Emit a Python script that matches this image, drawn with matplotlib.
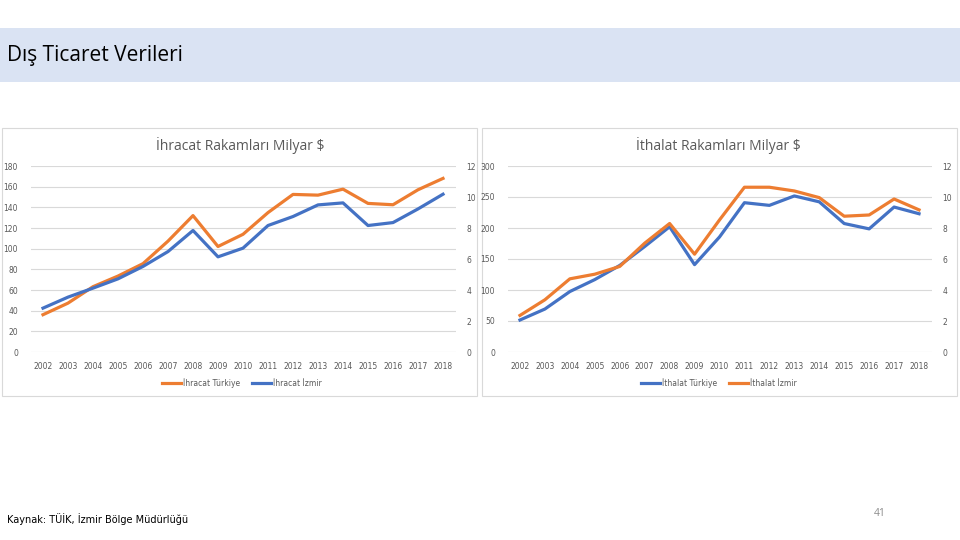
import matplotlib
matplotlib.use("Agg")
import matplotlib.pyplot as plt
from matplotlib.patches import Rectangle
from matplotlib.lines import Line2D

years = [str(y) for y in range(2002, 2019)]

# Exports (billion $)
ihracat_turkiye = [36.1, 47.3, 63.2, 73.5, 85.5, 107.3, 132.0, 102.1, 113.9, 134.9,
                   152.5, 151.8, 157.6, 143.8, 142.5, 157.0, 168.0]
ihracat_izmir = [2.83, 3.54, 4.12, 4.72, 5.52, 6.48, 7.84, 6.14, 6.70, 8.16,
                 8.74, 9.49, 9.62, 8.16, 8.35, 9.23, 10.18]

# Imports (billion $)
ithalat_turkiye = [51.6, 69.3, 97.5, 116.8, 139.6, 170.1, 202.0, 140.9, 185.5, 240.8,
                   236.5, 251.7, 242.2, 207.2, 198.6, 233.8, 223.0]
ithalat_izmir = [2.36, 3.37, 4.72, 5.02, 5.52, 7.02, 8.29, 6.31, 8.52, 10.63,
                 10.63, 10.39, 9.96, 8.76, 8.84, 9.87, 9.17]

ORANGE = "#ED7D31"
BLUE = "#4472C4"
GRID = "#D9D9D9"
TXT = "#595959"

W, H = 960, 540
fig = plt.figure(figsize=(9.6, 5.4), dpi=100)
fig.patch.set_facecolor("white")
FONT = ["Open Sans", "DejaVu Sans"]


def fx(x):
    return x / W


def fy(y):
    return 1 - y / H


# title bar
fig.patches.append(Rectangle((0, fy(82)), 1, (82 - 28) / H, transform=fig.transFigure,
                             facecolor="#DAE3F3", edgecolor="none", zorder=-2))
fig.text(fx(7), fy(56), "Dış Ticaret Verileri", fontsize=15, family=FONT,
         va="center", ha="left", color="black")

# chart frames
for x0, x1 in [(2, 477), (482, 957)]:
    fig.patches.append(Rectangle((fx(x0), fy(396)), (x1 - x0) / W, (396 - 128) / H,
                                 transform=fig.transFigure, facecolor="white",
                                 edgecolor="#D9D9D9", linewidth=0.8, zorder=-2))


def make_chart(x0, x1, title, tx, left_vals, right_vals, left_col, right_col,
               left_max, left_step, right_max, right_step, labels, legend_x):
    ax = fig.add_axes([fx(x0), fy(352), (x1 - x0) / W, (352 - 166) / H])
    ax2 = ax.twinx()
    ax.patch.set_visible(False)
    ax2.patch.set_visible(False)
    xs = list(range(len(years)))
    ax.plot(xs, left_vals, color=left_col, lw=2.3, zorder=3)
    ax2.plot(xs, right_vals, color=right_col, lw=2.3, zorder=3)
    ax.set_xlim(-0.5, len(years) - 0.5)
    ax.set_ylim(0, left_max)
    ax2.set_ylim(0, right_max)
    ax.set_yticks(range(0, left_max + 1, left_step))
    ax2.set_yticks(range(0, right_max + 1, right_step))
    ax.set_xticks(xs)
    ax.set_xticklabels(years)
    for a in (ax, ax2):
        for s in a.spines.values():
            s.set_visible(False)
        a.tick_params(length=0, labelsize=5.5, colors=TXT)
    ax.tick_params(axis="y", pad=9)
    ax2.tick_params(axis="y", pad=8)
    ax.tick_params(axis="x", pad=7)
    ax.grid(axis="y", color=GRID, lw=0.8)
    ax.set_axisbelow(True)
    fig.text(fx(tx), fy(145), title, fontsize=10, family=FONT, color=TXT,
             ha="center", va="center")
    handles = [Line2D([], [], color=c, lw=2.3) for c in labels[1]]
    leg = ax2.legend(handles, labels[0], loc="center", ncol=2, frameon=False,
                     fontsize=5.5, bbox_to_anchor=(fx(legend_x), fy(383)),
                     bbox_transform=fig.transFigure, handlelength=2.4,
                     columnspacing=1.6, handletextpad=0.3)
    for t in leg.get_texts():
        t.set_color(TXT)
    return ax


make_chart(30.5, 455.5, "İhracat Rakamları Milyar $", 240,
           ihracat_turkiye, ihracat_izmir, ORANGE, BLUE, 180, 20, 12, 2,
           (["İhracat Türkiye", "İhracat İzmir"], [ORANGE, BLUE]), 242)
make_chart(507.5, 931.5, "İthalat Rakamları Milyar $", 718,
           ithalat_turkiye, ithalat_izmir, BLUE, ORANGE, 300, 50, 12, 2,
           (["İthalat Türkiye", "İthalat İzmir"], [BLUE, ORANGE]), 719)

fig.text(fx(7), fy(519), "Kaynak: TÜİK, İzmir Bölge Müdürlüğü", fontsize=7,
         family=["Liberation Sans Narrow", "DejaVu Sans"], color="black",
         ha="left", va="center")
fig.text(fx(880), fy(514), "41", fontsize=7.5, family=FONT, color="#8C8C8C",
         ha="center", va="center")

fig.savefig("out.png", dpi=100, facecolor="white")
